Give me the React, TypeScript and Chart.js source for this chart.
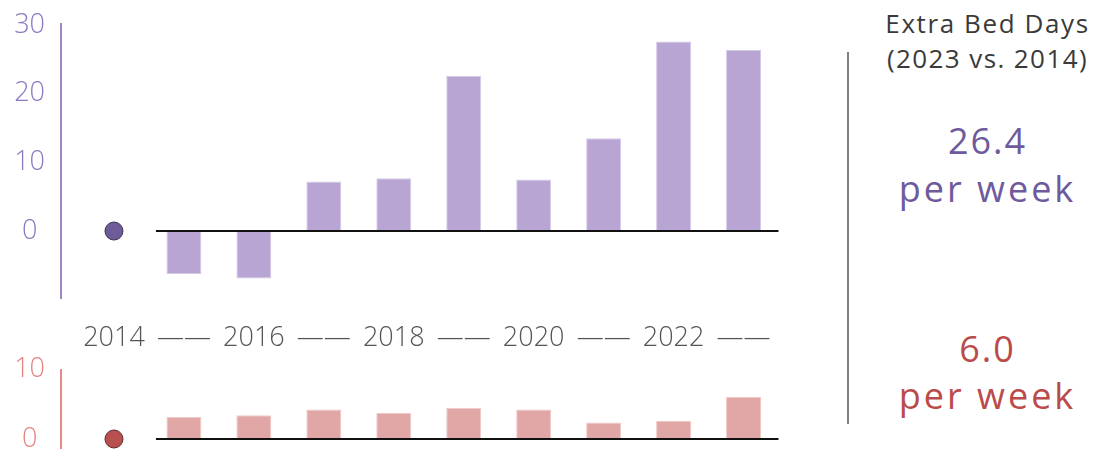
import React, { useEffect, useRef } from "react";
import { Chart, registerables } from "chart.js";

Chart.register(...registerables);

const years = ["2014", "2015", "2016", "2017", "2018", "2019", "2020", "2021", "2022", "2023"];
const bedDaysTop = [null, -6.3, -6.9, 7.2, 7.7, 22.6, 7.5, 13.5, 27.6, 26.4];
const baselineTop = [0, null, null, null, null, null, null, null, null, null];
const bedDaysBottom = [null, 3.15, 3.4, 4.2, 3.7, 4.45, 4.2, 2.35, 2.6, 6.0];
const baselineBottom = [0, null, null, null, null, null, null, null, null, null];
const topTicks = [0, 10, 20, 30];
const bottomTicks = [0, 10];
const topSummary = "26.4";
const bottomSummary = "6.0";

const FONT = "'Open Sans', 'Noto Sans', sans-serif";

function makePlugin(axisColor: string, axisOffset: number, axisTop: number | null, axisBottom: number | null) {
  return {
    id: "customLines",
    afterDatasetsDraw(chart: any) {
      const { ctx, chartArea, scales } = chart;
      const x = scales.x;
      const y = scales.y;
      const catW = x.getPixelForValue(1) - x.getPixelForValue(0);
      const x0 = x.getPixelForValue(0) + 0.6 * catW;
      const yz = y.getPixelForValue(0);
      ctx.save();
      ctx.strokeStyle = "#111111";
      ctx.lineWidth = 2;
      ctx.beginPath();
      ctx.moveTo(x0, yz);
      ctx.lineTo(chartArea.right, yz);
      ctx.stroke();
      ctx.strokeStyle = axisColor;
      ctx.lineWidth = 2;
      ctx.beginPath();
      const ax = chartArea.left - axisOffset;
      ctx.moveTo(ax, axisTop ?? chartArea.top);
      ctx.lineTo(ax, axisBottom ?? chartArea.bottom);
      ctx.stroke();
      ctx.restore();
    },
  };
}

function buildConfig(opts: {
  bars: (number | null)[];
  dots: (number | null)[];
  barColor: string;
  barBorder: string;
  dotColor: string;
  dotBorder: string;
  tickColor: string;
  min: number;
  max: number;
  ticks: number[];
  showX: boolean;
  padding: any;
}) {
  return {
    type: "bar" as const,
    data: {
      labels: years,
      datasets: [
        {
          type: "bar" as const,
          data: opts.bars,
          backgroundColor: opts.barColor,
          borderColor: opts.barBorder,
          borderWidth: 1,
          barPercentage: 0.5,
          categoryPercentage: 1,
          order: 2,
        },
        {
          type: "line" as const,
          data: opts.dots,
          showLine: false,
          clip: false,
          pointRadius: 9,
          pointBackgroundColor: opts.dotColor,
          pointBorderColor: opts.dotBorder,
          pointBorderWidth: 1,
          order: 1,
        },
      ],
    },
    options: {
      responsive: false,
      animation: false,
      maintainAspectRatio: false,
      layout: { padding: opts.padding },
      plugins: { legend: { display: false }, tooltip: { enabled: false } },
      scales: {
        x: {
          display: opts.showX,
          offset: true,
          grid: { display: false, drawTicks: false },
          border: { display: false },
          ticks: {
            color: "#555555",
            padding: 23,
            font: { family: FONT, size: 27, weight: "300" },
            maxRotation: 0,
            autoSkip: false,
            callback: (_v: any, i: number) => (i % 2 === 0 ? years[i] : "——"),
          },
          afterFit: (s: any) => {
            s.height = opts.showX ? 60 : 0;
            s.paddingLeft = 0;
            s.paddingRight = 0;
          },
        },
        y: {
          min: opts.min,
          max: opts.max,
          grid: { display: false, drawTicks: false },
          border: { display: false },
          afterBuildTicks: (s: any) => {
            s.ticks = opts.ticks.map((v) => ({ value: v }));
          },
          afterFit: (s: any) => {
            s.width = 79;
            s.paddingTop = 0;
            s.paddingBottom = 0;
          },
          ticks: {
            color: opts.tickColor,
            padding: 34,
            crossAlign: "center" as const,
            font: { family: FONT, size: 27, weight: "300" },
          },
        },
      },
    },
  };
}

function ChartCanvas({ config, plugin, width, height, style }: any) {
  const ref = useRef<HTMLCanvasElement>(null);
  useEffect(() => {
    if (!ref.current) return;
    const c = new Chart(ref.current, { ...config, plugins: [plugin] });
    return () => c.destroy();
  }, []);
  return <canvas ref={ref} width={width} height={height} style={{ position: "absolute", width, height, ...style }} />;
}

const textBase: React.CSSProperties = {
  position: "absolute",
  left: 880,
  width: 215,
  textAlign: "center",
  lineHeight: 1,
  fontFamily: FONT,
  whiteSpace: "nowrap",
};

export default function App() {
  const topConfig = buildConfig({
    bars: bedDaysTop,
    dots: baselineTop,
    barColor: "#b8a5d3",
    barBorder: "#d6caea",
    dotColor: "#6f5b98",
    dotBorder: "#3b3052",
    tickColor: "#8e78c2",
    min: -9.9,
    max: 30.3,
    ticks: topTicks,
    showX: true,
    padding: { top: 23, bottom: 1, left: 0, right: 21.5 },
  });
  const bottomConfig = buildConfig({
    bars: bedDaysBottom,
    dots: baselineBottom,
    barColor: "#e1a6a6",
    barBorder: "#f0c8c8",
    dotColor: "#b85050",
    dotBorder: "#5e2a2a",
    tickColor: "#e58282",
    min: -2,
    max: 10,
    ticks: bottomTicks,
    showX: false,
    padding: { top: 29, bottom: 3.6, left: 0, right: 21.5 },
  });
  return (
    <div style={{ position: "fixed", left: 0, top: 0, width: 1095, height: 449, overflow: "hidden", background: "#fff" }}>
      <ChartCanvas config={topConfig} plugin={makePlugin("#9c88c8", 18, null, null)} width={800} height={360} style={{ left: 0, top: 0 }} />
      <ChartCanvas config={bottomConfig} plugin={makePlugin("#e38a8a", 18, null, 200)} width={800} height={123} style={{ left: 0, top: 340 }} />
      <div style={{ position: "absolute", left: 846.5, top: 52, width: 2, height: 372, background: "#7f7f7f" }} />
      <div style={{ ...textBase, top: 10, fontSize: 26, color: "#3a3a3a", letterSpacing: 1.6 }}>Extra Bed Days</div>
      <div style={{ ...textBase, top: 45, fontSize: 26, color: "#3a3a3a", letterSpacing: 1.4 }}>(2023 vs. 2014)</div>
      <div style={{ ...textBase, top: 123, fontSize: 36, color: "#6e5a9c", letterSpacing: 2 }}>{topSummary}</div>
      <div style={{ ...textBase, top: 171, fontSize: 36, color: "#6e5a9c", letterSpacing: 3 }}>per week</div>
      <div style={{ ...textBase, top: 331, fontSize: 36, color: "#bb4b4b", letterSpacing: 2 }}>{bottomSummary}</div>
      <div style={{ ...textBase, top: 378, fontSize: 36, color: "#bb4b4b", letterSpacing: 3 }}>per week</div>
    </div>
  );
}
